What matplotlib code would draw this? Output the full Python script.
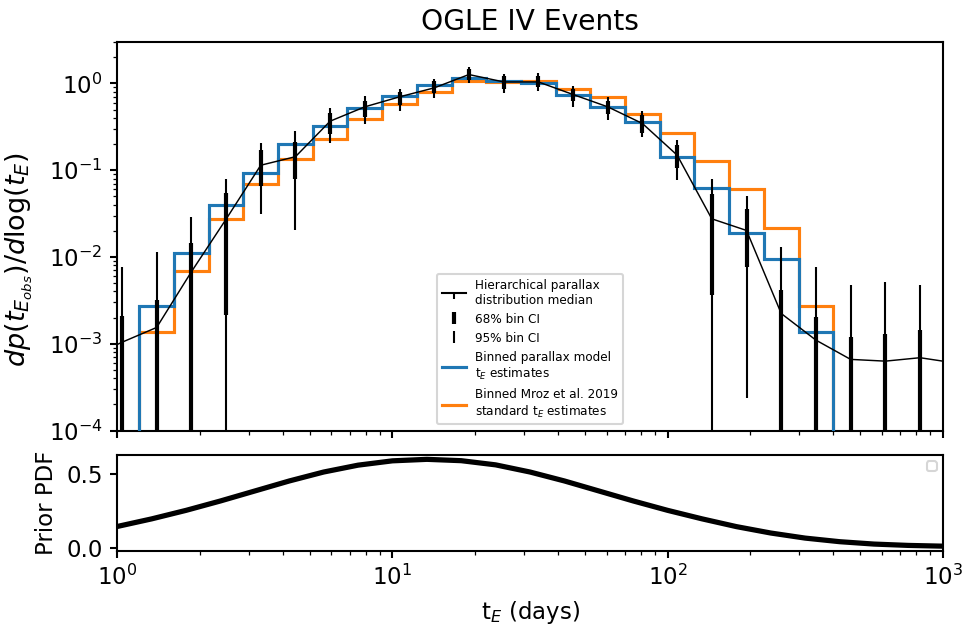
import matplotlib
matplotlib.use('Agg')
import matplotlib.pyplot as plt
from matplotlib.lines import Line2D
import numpy as np

# histogram bin edges (days)
bin_edges = [1.202, 1.607, 2.148, 2.872, 3.839, 5.133, 6.863, 9.175, 12.27, 16.40,
             21.93, 29.31, 39.19, 52.39, 70.04, 93.63, 125.2, 167.3, 223.7, 299.1, 399.9]

# binned tE estimates
parallax_hist = [2.73e-3, 0.0110, 0.0395, 0.093, 0.199, 0.321, 0.522, 0.718, 0.954, 1.16,
                 1.07, 1.01, 0.731, 0.53, 0.36, 0.140, 0.0629, 0.019, 9.5e-3, 1.36e-3]
mroz_hist = [1.37e-3, 6.9e-3, 0.0277, 0.0684, 0.136, 0.230, 0.394, 0.581, 0.798, 1.07,
             1.05, 1.07, 0.873, 0.70, 0.44, 0.270, 0.128, 0.0612, 0.0216, 2.74e-3]

# hierarchical model: bin centres, median and credible intervals
t_centers = [1.040, 1.390, 1.858, 2.484, 3.321, 4.440, 5.936, 7.936, 10.61, 14.19, 18.96, 25.35,
             33.89, 45.31, 60.58, 80.99, 108.3, 144.7, 193.5, 258.7, 345.9, 462.4, 618.2, 826.5]
median = [1.04e-3, 1.54e-3, 6.73e-3, 0.0272, 0.114, 0.143, 0.367, 0.537, 0.700, 0.889, 1.265, 1.04,
          1.04, 0.745, 0.537, 0.345, 0.149, 0.0275, 0.0202, 2.23e-3, 1.10e-3, 6.6e-4, 6.3e-4, 6.9e-4]
lo68 = [1e-6, 1e-6, 1e-6, 2.15e-3, 0.0655, 0.0782, 0.260, 0.405, 0.561, 0.766, 1.109, 0.873,
        0.912, 0.624, 0.442, 0.269, 0.107, 3.68e-3, 7.60e-3, 1e-6, 1e-6, 1e-6, 1e-6, 1e-6]
hi68 = [2.09e-3, 3.18e-3, 0.01452, 0.0548, 0.1698, 0.212, 0.450, 0.628, 0.798, 1.069, 1.459, 1.211,
        1.233, 0.873, 0.628, 0.431, 0.194, 0.0536, 0.0359, 4.16e-3, 2.05e-3, 1.18e-3, 1.29e-3, 1.45e-3]
lo95 = [1e-6, 1e-6, 1e-6, 1e-6, 0.0309, 0.0207, 0.2065, 0.339, 0.479, 0.675, 1.014, 0.766,
        0.813, 0.536, 0.377, 0.242, 0.0776, 1e-6, 2.39e-4, 1e-6, 1e-6, 1e-6, 1e-6, 1e-6]
hi95 = [7.57e-3, 0.01146, 0.0290, 0.0787, 0.2084, 0.281, 0.514, 0.713, 0.873, 1.138, 1.549, 1.276,
        1.321, 0.929, 0.700, 0.479, 0.225, 0.0798, 0.0507, 0.01318, 7.60e-3, 4.80e-3, 5.19e-3, 4.80e-3]

# median line also reaches the plot edges
line_t = [1.0] + t_centers + [1000.0]
line_med = [9.8e-4] + median + [6.3e-4]

# prior PDF
prior_t = [1.0, 1.334, 1.778, 2.371, 3.162, 4.217, 5.623, 7.499, 10.0, 13.34, 17.78, 23.71, 31.62,
           42.17, 56.23, 74.99, 100.0, 133.4, 177.8, 237.1, 316.2, 421.7, 562.3, 749.9, 1000.0]
prior_pdf = [0.147, 0.198, 0.255, 0.318, 0.385, 0.452, 0.512, 0.558, 0.587, 0.597, 0.588, 0.560, 0.512,
             0.452, 0.385, 0.318, 0.255, 0.198, 0.146, 0.103, 0.069, 0.045, 0.029, 0.020, 0.015]

plt.rcParams['axes.linewidth'] = 1.0
plt.rcParams['xtick.major.width'] = 1.0
plt.rcParams['ytick.major.width'] = 1.0
plt.rcParams['xtick.labelsize'] = 11
plt.rcParams['ytick.labelsize'] = 11

W, H = 964, 629
fig = plt.figure(figsize=(W / 150, H / 150), dpi=150)
ax1 = fig.add_axes([117.3 / W, 1 - 430.5 / H, 825.5 / W, 388.5 / H])
ax2 = fig.add_axes([117.3 / W, 1 - 550.5 / H, 825.5 / W, 95.5 / H])

med = np.array(median)
t_c = np.array(t_centers)

ax1.stairs(mroz_hist, bin_edges, baseline=1e-6, color='tab:orange', lw=1.5, zorder=2)
ax1.stairs(parallax_hist, bin_edges, baseline=1e-6, color='tab:blue', lw=1.5, zorder=3)
ax1.plot(line_t, line_med, color='k', lw=0.7, zorder=4)
e68 = ax1.errorbar(t_c, med, yerr=[med - np.array(lo68), np.array(hi68) - med],
                   fmt='none', ecolor='k', elinewidth=2.0, zorder=5)
e95 = ax1.errorbar(t_c, med, yerr=[med - np.array(lo95), np.array(hi95) - med],
                   fmt='none', ecolor='k', elinewidth=1.0, zorder=5)

h_med = Line2D([], [], color='k', lw=1.0, marker=3, markersize=3)
h_blue = Line2D([], [], color='tab:blue', lw=1.5)
h_orange = Line2D([], [], color='tab:orange', lw=1.5)
ax1.legend([h_med, e68, e95, h_blue, h_orange],
           ['Hierarchical parallax\ndistribution median', '68% bin CI', '95% bin CI',
            'Binned parallax model\nt$_E$ estimates', 'Binned Mroz et al. 2019\nstandard t$_E$ estimates'],
           loc='lower center', fontsize='xx-small')

ax1.set_xscale('log')
ax1.set_yscale('log')
ax1.set_xlim(1, 1000)
ax1.set_ylim(1e-4, 3)
ax1.tick_params(labelbottom=False)
ax1.set_ylabel(r'$dp(t_{E_{obs}})/d\log(t_E)$', fontsize=13)
ax1.yaxis.set_label_coords(-0.1, 0.44)
ax1.set_title('OGLE IV Events', fontsize=13.5)

ax2.plot(prior_t, prior_pdf, color='k', lw=2.5)
ax2.set_xscale('log')
ax2.set_xlim(1, 1000)
ax2.set_ylabel('Prior PDF', fontsize=11)
ax2.set_xlabel('t$_E$ (days)', fontsize=11)
ax2.legend(handles=[], loc='upper right', fontsize=6)

fig.savefig('out.png', dpi=150)
